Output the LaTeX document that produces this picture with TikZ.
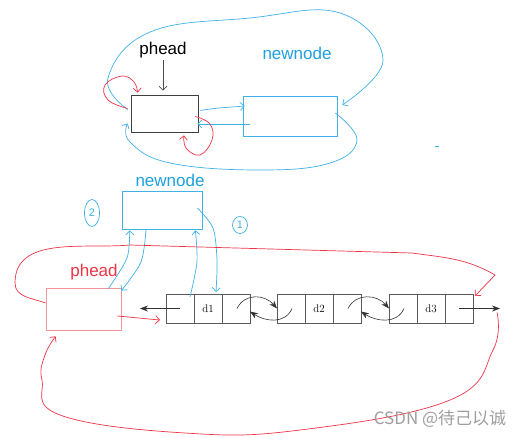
\documentclass[tikz,border=0pt]{standalone}
\usepackage{fontspec}
\newfontfamily\sketchfont{Liberation Sans}
\newfontfamily\cjkfont{Noto Sans CJK SC}
\usepackage{xcolor}
\usetikzlibrary{arrows.meta, positioning, shapes.geometric}

\definecolor{skblue}{RGB}{64,178,232}
\definecolor{sktext}{RGB}{30,160,225}
\definecolor{skred}{RGB}{238,52,70}
\definecolor{skpink}{RGB}{242,150,155}
\definecolor{cellgray}{RGB}{90,90,90}

\begin{document}
\begin{tikzpicture}[x=1pt, y=-1pt,
    node distance=0pt,
    hand/.style={line width=0.7pt},
    bluepen/.style={hand, draw=skblue},
    redpen/.style={hand, draw=skred},
    sketchtip/.style={-{Straight Barb[length=4pt,width=8pt]}},
    cell/.style={rectangle, draw=cellgray, line width=0.8pt,
      minimum width=28pt, minimum height=29pt, inner sep=0pt, outer sep=0pt,
      font=\fontsize{11}{13}\selectfont},
    tag/.style={font=\sketchfont\fontsize{17}{20}\selectfont, inner sep=0pt},
    stepmark/.style={ellipse, draw=skblue, hand, inner sep=0pt, text=skblue,
      font=\sketchfont\fontsize{11}{13}\selectfont},
    listarrow/.style={-{Stealth[length=8pt,width=6pt]}, line width=0.6pt, draw=black!80}
]
\useasboundingbox[fill=white] (0,0) rectangle (529,437);

% top part
\node[rectangle, draw=black!75, line width=0.8pt, minimum width=67pt, minimum height=37pt] (topphead) at (164.5,113.5) {};
\node[rectangle, draw=skblue, hand, minimum width=94pt, minimum height=40pt] (topnew) at (290,116) {};
\node[tag, text=black] (topname) at (163,50) {phead};
\node[tag, text=sktext] (topnewname) at (297,53) {newnode};

\draw[hand, draw=black!70, sketchtip, shorten <=2pt, shorten >=4pt] (topname.south) -- (topname.south |- topphead.north);
\draw[bluepen, sketchtip] plot[smooth, tension=0.7] coordinates {([shift={(-3,-4)}]topphead.west) (108,78) (150,32) (250,18) (340,13) (383,60) ([shift={(5,-11)}]topnew.east)};
\draw[bluepen, sketchtip] plot[smooth, tension=0.7] coordinates {([shift={(-2,-3)}]topnew.east) (357,140) (330,163) (260,170) (170,163) (130,142) ([shift={(-3,-9)}]topphead.south west)};
\draw[bluepen, sketchtip] ([shift={(2,-3)}]topphead.east) to[out=10,in=185] ([shift={(2,-10)}]topnew.west);
\draw[bluepen, sketchtip] ([shift={(7,8)}]topnew.west) -- ([shift={(-1,10.5)}]topphead.east);
\draw[redpen, sketchtip] plot[smooth, tension=0.7] coordinates {([shift={(-3,-5)}]topphead.west) (108,100) (105,85) (122,76) (134,82) ([shift={(7,-2)}]topphead.north west)};
\draw[redpen, sketchtip] plot[smooth, tension=0.7] coordinates {([shift={(-3,3)}]topphead.east) (210,124) (212,140) (200,155) (186,148) ([shift={(19.5,3)}]topphead.south)};
\draw[bluepen] (435,146) -- (439,146);

% bottom part
\node[rectangle, draw=skblue, hand, minimum width=80pt, minimum height=38pt] (newbox) at (162,210) {};
\node[tag, text=sktext] (newname) at (170,180) {newnode};
\node[rectangle, draw=skpink, hand, minimum width=75pt, minimum height=42pt] (pheadbox) at (83.5,309) {};
\node[tag, text=skred] (pheadname) at (94,272) {phead};
\node[stepmark, minimum width=15pt, minimum height=27pt] (steptwo) at (92,213) {2};
\node[stepmark, minimum width=15pt, minimum height=17pt] (stepone) at (240,225) {1};

\node[cell] (d1l) at (180,308.5) {};
\node[cell, right=of d1l] (d1m) {d1};
\node[cell, right=of d1m] (d1r) {};
\node[cell, right=27pt of d1r] (d2l) {};
\node[cell, right=of d2l] (d2m) {d2};
\node[cell, right=of d2m] (d2r) {};
\node[cell, right=28pt of d2r] (d3l) {};
\node[cell, right=of d3l] (d3m) {d3};
\node[cell, right=of d3m] (d3r) {};
\coordinate (leftend) at ([xshift=-26pt]d1l.west);
\coordinate (rightend) at ([xshift=27pt]d3r.east);

\draw[listarrow] (d1l.center) -- (leftend);
\draw[listarrow] (d3r.center) -- (rightend);
\draw[listarrow] ([xshift=1pt]d1r.center) .. controls +(8,-16) and +(-12,-14) .. (d2l.west);
\draw[listarrow] ([xshift=1pt]d2l.center) .. controls +(-7,16) and +(15,10) .. ([shift={(0,3)}]d1r.east);
\draw[listarrow] ([xshift=1pt]d2r.center) .. controls +(8,-16) and +(-12,-14) .. (d3l.west);
\draw[listarrow] ([xshift=1pt]d3l.center) .. controls +(-7,16) and +(15,10) .. ([shift={(0,3)}]d2r.east);

\draw[bluepen, sketchtip] plot[smooth] coordinates {([xshift=-16pt]newbox.south) (141,262) ([shift={(0,3)}]pheadbox.north east)};
\draw[bluepen, sketchtip] plot[smooth] coordinates {([shift={(-13,1)}]pheadbox.north east) (127,258) ([shift={(8,1)}]newbox.south west)};
\draw[bluepen, sketchtip] plot[smooth] coordinates {([shift={(-4,3)}]d1l.north east) (197,262) ([shift={(-7,1)}]newbox.south east)};
\draw[bluepen, sketchtip] plot[smooth] coordinates {([shift={(-5,-2)}]newbox.east) (213,228) (217,260) ([shift={(8,-2)}]d1m.north)};

\draw[redpen, sketchtip] ([yshift=6pt]pheadbox.west) to[out=160,in=270] (15,283) to[out=90,in=185] (130,245) -- (412,253) to[out=-8,in=150] (495,275) -- ([shift={(2,2)}]d3r.north east);
\draw[redpen, sketchtip] ([shift={(-4,7)}]pheadbox.east) to[out=-5,in=175] ([shift={(-6,11.5)}]d1l.west);
\draw[redpen, sketchtip] plot[smooth, tension=0.7] coordinates {([shift={(-3,4)}]rightend) (493,350) (450,400) (300,430) (185,433) (60,415) (42,380) (45,355) ([shift={(10,6)}]pheadbox.south west)};

\node[font=\cjkfont\fontsize{17}{20}\selectfont, text=gray!75, inner sep=0pt] (mark) at (440,419) {CSDN @待己以诚};
\end{tikzpicture}
\end{document}
